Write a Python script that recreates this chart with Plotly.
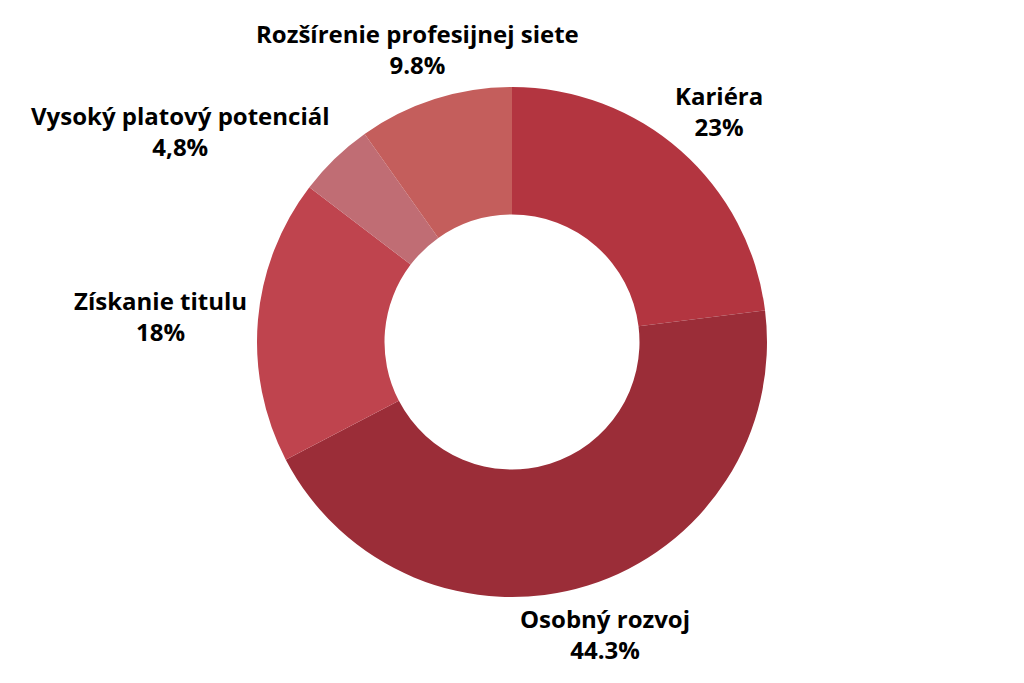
import math
import plotly.graph_objects as go

# Data
labels = ['Kariéra', 'Osobný rozvoj', 'Získanie titulu', 'Vysoký platový potenciál', 'Rozšírenie profesijnej siete']
values = [23, 44.3, 18, 4.8, 9.8]
pct_text = ['23%', '44.3%', '18%', '4,8%', '9.8%']
colors = ['#B33540', '#9B2D38', '#BF444E', '#C06D74', '#C45E5C']

# Layout (pixels)
W, H = 1024, 683
cx, cy, R = 512, 342, 255
label_dx = [4, 2, -47, -119, -2]
label_dy = [-2, 0, 0, 9, -1]

# Create figure - donut
fig = go.Figure(go.Pie(
    labels=labels,
    values=values,
    textinfo='none',
    hoverinfo='label+percent',
    hole=0.5,
    sort=False,
    direction='clockwise',
    rotation=0,
    marker=dict(colors=colors, line=dict(width=0)),
    domain=dict(x=[(cx - R) / W, (cx + R) / W], y=[1 - (cy + R) / H, 1 - (cy - R) / H]),
    showlegend=False,
))

# Labels outside, along the middle angle of each slice
total = sum(values)
cum = 0
for i, (lab, val, txt) in enumerate(zip(labels, values, pct_text)):
    ang = math.radians((cum + val / 2) / total * 360)
    cum += val
    px = cx + 1.2 * R * math.sin(ang) + label_dx[i]
    py = cy - 1.2 * R * math.cos(ang) + label_dy[i]
    fig.add_annotation(
        x=px / W, y=1 - py / H, xref='paper', yref='paper',
        text='<b>' + lab + '</b><br><b>' + txt + '</b>',
        showarrow=False, xanchor='center', yanchor='middle', align='center',
        font=dict(family='Open Sans', size=24, color='black'),
    )

fig.update_layout(
    width=W, height=H,
    margin=dict(l=0, r=0, t=0, b=0),
    paper_bgcolor='white',
    plot_bgcolor='white',
)

fig.write_html('out.html', config={'displayModeBar': False},
               post_script="document.body.style.margin='0';")
